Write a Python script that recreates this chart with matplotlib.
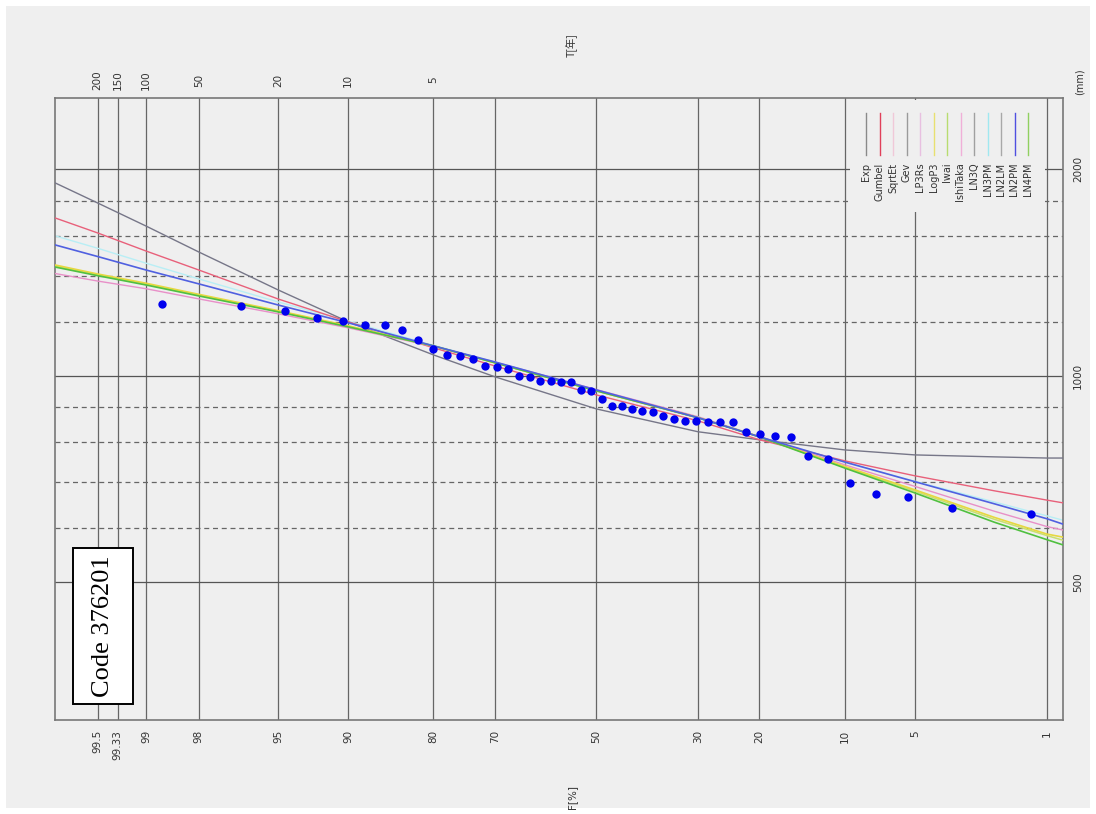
import matplotlib
matplotlib.use("Agg")
import matplotlib.pyplot as plt
from matplotlib.patches import Rectangle
from statistics import NormalDist

# 非超過確率 F[%] と観測値 (mm)
obs_F = [98.76, 96.68, 94.61, 92.53, 90.46, 88.38, 86.31, 84.23, 82.16, 80.08,
         78.01, 75.93, 73.86, 71.78, 69.71, 67.63, 65.56, 63.49, 61.41, 59.34,
         57.26, 55.19, 53.11, 51.04, 48.96, 46.89, 44.81, 42.74, 40.66, 38.59,
         36.51, 34.44, 32.37, 30.29, 28.22, 26.14, 24.07, 21.99, 19.92, 17.84,
         15.77, 13.69, 11.62, 9.54, 7.47, 5.39, 3.32, 1.24]
obs_mm = [1273, 1265, 1244, 1215, 1203, 1187, 1187, 1167, 1128, 1095,
          1073, 1069, 1059, 1034, 1031, 1024, 1000, 997, 983, 983,
          980, 980, 954, 951, 926, 904, 904, 895, 889, 886,
          874, 866, 860, 860, 857, 857, 857, 829, 823, 818,
          815, 764, 757, 698, 673, 666, 642, 629]

# 確率分布の当てはめ曲線 (読み取り値)
curve_F = [99.74, 99.5, 99, 98, 95, 90, 80, 70, 50, 30, 20, 10, 5, 2, 1, 0.8]
exp_mm = [1911, 1787, 1654, 1516, 1335, 1199, 1073, 997, 895, 829, 807, 780, 767, 762, 759, 759]
gumbel_mm = [1699, 1616, 1521, 1427, 1295, 1199, 1099, 1034, 938, 860, 807, 752, 715, 680, 659, 653]
ln3pm_mm = [1600, 1535, 1460, 1385, 1282, 1202, 1108, 1048, 953, 868, 815, 748, 702, 655, 625, 616]
ln2pm_mm = [1552, 1493, 1427, 1362, 1269, 1195, 1106, 1048, 954, 869, 815, 749, 701, 651, 619, 608]
ishitaka_mm = [1410, 1375, 1340, 1295, 1232, 1175, 1104, 1047, 955, 872, 816, 742, 690, 635, 603, 596]
iwai_mm = [1446, 1404, 1361, 1311, 1242, 1181, 1106, 1045, 951, 869, 815, 736, 679, 618, 585, 576]
logp3_mm = [1451, 1408, 1365, 1315, 1245, 1183, 1106, 1045, 951, 869, 815, 738, 682, 622, 588, 582]
ln4pm_mm = [1441, 1400, 1357, 1308, 1240, 1179, 1106, 1045, 951, 869, 815, 734, 675, 612, 577, 567]

legend_names = ["Exp", "Gumbel", "SqrtEt", "Gev", "LP3Rs", "LogP3", "Iwai",
                "IshiTaka", "LN3Q", "LN3PM", "LN2LM", "LN2PM", "LN4PM"]
legend_colors = ["#8a8a8a", "#e0405a", "#f0c8d8", "#9a9a9a", "#e8c0e0", "#e8e070", "#b8dc70",
                 "#f0b0d8", "#a0a0a0", "#a0e8f0", "#a8a8a8", "#5050e0", "#90d060"]

F_ticks = [99.5, 99.33, 99, 98, 95, 90, 80, 70, 50, 30, 20, 10, 5, 1]
F_labels = ["99.5", "99.33", "99", "98", "95", "90", "80", "70", "50", "30", "20", "10", "5", "1"]
T_ticks = [99.5, 99.33, 99, 98, 95, 90, 80]
T_labels = ["200", "150", "100", "50", "20", "10", "5"]
mm_solid = [500, 1000, 2000]
mm_dashed = [600, 700, 800, 900, 1200, 1400, 1600, 1800]

nd = NormalDist()


def z(p):
    return [nd.inv_cdf(v / 100.0) for v in p]


W, H = 1096, 814
bg = "#efefef"
fig = plt.figure(figsize=(W / 100, H / 100), dpi=100, facecolor="white")
fig.patches.append(Rectangle((6 / W, 6 / H), 1 - 12 / W, 1 - 12 / H, transform=fig.transFigure,
                             facecolor=bg, edgecolor="none", zorder=-10))
ax = fig.add_axes([55 / W, 1 - 720 / H, 1008 / W, 622 / H])
ax.set_zorder(1)
ax.set_facecolor(bg)
ax.set_yscale("log")
ax.set_xlim(2.796, -2.409)
ax.set_ylim(315, 2542)
ax.set_xticks([])
ax.set_yticks([])
ax.minorticks_off()
for s in ax.spines.values():
    s.set_color("#777777")
    s.set_linewidth(1.2)

# 格子線
for p in F_ticks:
    ax.axvline(nd.inv_cdf(p / 100.0), color="#666666", lw=0.9, zorder=1)
for v in mm_solid:
    ax.axhline(v, color="#555555", lw=0.9, zorder=1)
for v in mm_dashed:
    ax.axhline(v, color="#666666", lw=0.9, ls=(0, (4, 3)), zorder=1)

# 凡例の下地
ax.add_patch(Rectangle((0.789, 0.817), 0.193, 0.18, transform=ax.transAxes,
                       facecolor=bg, edgecolor="none", zorder=1.5))

# 曲線
zc = z(curve_F)
ax.plot(zc, ln3pm_mm, color="#b8eef5", lw=1.0, zorder=2)
ax.plot(zc, exp_mm, color="#767688", lw=1.0, zorder=3)
ax.plot(zc, gumbel_mm, color="#e8607a", lw=1.0, zorder=3)
ax.plot(zc, ishitaka_mm, color="#e890c8", lw=1.0, zorder=3)
ax.plot(zc, iwai_mm, color="#c8e070", lw=1.1, zorder=3)
ax.plot(zc, logp3_mm, color="#e6d840", lw=1.2, zorder=3)
ax.plot(zc, ln4pm_mm, color="#50c040", lw=1.2, zorder=3.2)
ax.plot(zc, ln2pm_mm, color="#5060e0", lw=1.2, zorder=3.3)

# 観測値
ax.plot(z(obs_F), obs_mm, "o", color="#0000ee", ms=6, mec="none", zorder=5)

# 凡例 (縦書き)
for i, (name, c) in enumerate(zip(legend_names, legend_colors)):
    xa = (866 + 13.5 * i - 55) / 1008
    ax.plot([xa, xa], [0.976, 0.908], color=c, lw=1.0, transform=ax.transAxes, zorder=2)
    ax.text(xa, 0.896, name, rotation=90, ha="center", va="top", fontsize=7,
            color="#333333", transform=ax.transAxes, zorder=2)

# 軸ラベル
for p, lab in zip(F_ticks, F_labels):
    ax.text(nd.inv_cdf(p / 100.0), -0.016, lab, rotation=90, ha="center", va="top",
            fontsize=7.5, color="#333333", transform=ax.get_xaxis_transform())
for p, lab in zip(T_ticks, T_labels):
    ax.text(nd.inv_cdf(p / 100.0), 1.029, lab, rotation=90, ha="center", va="center",
            fontsize=7.5, color="#333333", transform=ax.get_xaxis_transform())
for v in mm_solid:
    ax.text(1.015, v, str(v), rotation=90, ha="center", va="center",
            fontsize=7.5, color="#333333", transform=ax.get_yaxis_transform())

fig.text(1080 / W, 1 - 82 / H, "(mm)", rotation=90, ha="center", va="center", fontsize=7, color="#333333")
fig.text(572 / W, 1 - 45 / H, "T[年]", rotation=90, ha="center", va="center", fontsize=7.5,
         color="#333333", family=["Noto Sans CJK JP", "DejaVu Sans"])
fig.text(572 / W, 1 - 797 / H, "F[%]", rotation=90, ha="center", va="center", fontsize=7.5, color="#333333")

# コード表示の枠
fig.patches.append(Rectangle((73 / W, 1 - 704 / H), 60 / W, 156 / H, transform=fig.transFigure,
                             facecolor="white", edgecolor="black", lw=1.4, zorder=5))
fig.text(103 / W, 1 - 626 / H, "Code 376201", rotation=90, ha="center", va="center",
         fontsize=19, family="Liberation Serif", color="black", zorder=6)

fig.savefig("out.png", dpi=100, facecolor=fig.get_facecolor())
